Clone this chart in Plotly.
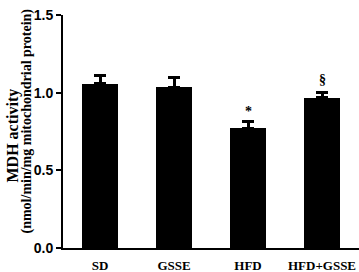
import plotly.graph_objects as go

categories = ["SD", "GSSE", "HFD", "HFD+GSSE"]
values = [1.058, 1.034, 0.772, 0.968]
errors = [0.052, 0.065, 0.045, 0.032]
marks = ["", "", "*", "§"]
tick_vals = [0.0, 0.5, 1.0, 1.5]
tick_text = ["0.0", "0.5", "1.0", "1.5"]
title_lines = ["MDH activity", "(nmol/min/mg mitochondrial protein)"]

fig = go.Figure()
fig.add_trace(go.Bar(
    x=list(range(len(categories))), y=values, width=0.49,
    marker=dict(color="black", line=dict(width=0)),
    error_y=dict(type="data", symmetric=False, array=errors, arrayminus=[0]*len(errors),
                 color="black", thickness=3, width=6),
))
shifts = {"*": 0, "§": 4}
for i, (m, v, e) in enumerate(zip(marks, values, errors)):
    if m:
        fig.add_annotation(x=i, y=v + e, text="<b>" + m + "</b>", showarrow=False,
                           yanchor="bottom", yshift=shifts[m],
                           font=dict(family="Liberation Serif", size=14, color="black"))

# y-axis title as two rotated lines, positioned in pixels left of the plot area
for line, px, py, fs in zip(title_lines, [12, 26], [-4, 10], [16, 14]):
    fig.add_annotation(xref="paper", yref="paper", x=0, y=0.5, xshift=px - 63, yshift=py,
                       xanchor="center", yanchor="middle", textangle=-90, showarrow=False,
                       text="<b>" + line + "</b>",
                       font=dict(family="Liberation Serif", size=fs, color="black"))

fig.update_layout(
    width=359, height=272, margin=dict(l=63, r=0, t=15, b=24, autoexpand=False),
    plot_bgcolor="white", paper_bgcolor="white", showlegend=False,
    bargap=0,
)
fig.update_xaxes(range=[-0.5, 3.5], tickvals=list(range(len(categories))),
                 ticktext=["<b>" + c + "</b>" for c in categories],
                 showline=True, linecolor="black", linewidth=2, ticks="",
                 showgrid=False, zeroline=False, automargin=False, ticklabelstandoff=4,
                 tickfont=dict(family="Liberation Serif", size=13, color="black"))
fig.update_yaxes(range=[0, 1.5], tickvals=tick_vals, ticktext=["<b>" + t + "</b>" for t in tick_text],
                 showline=True, linecolor="black", linewidth=2, ticks="outside",
                 ticklen=5, tickwidth=2, tickcolor="black", showgrid=False, zeroline=False,
                 automargin=False,
                 tickfont=dict(family="Liberation Sans", size=14, color="black"))

fig.write_html("out.html", config={"displayModeBar": False},
               post_script="document.body.style.margin='0';")
